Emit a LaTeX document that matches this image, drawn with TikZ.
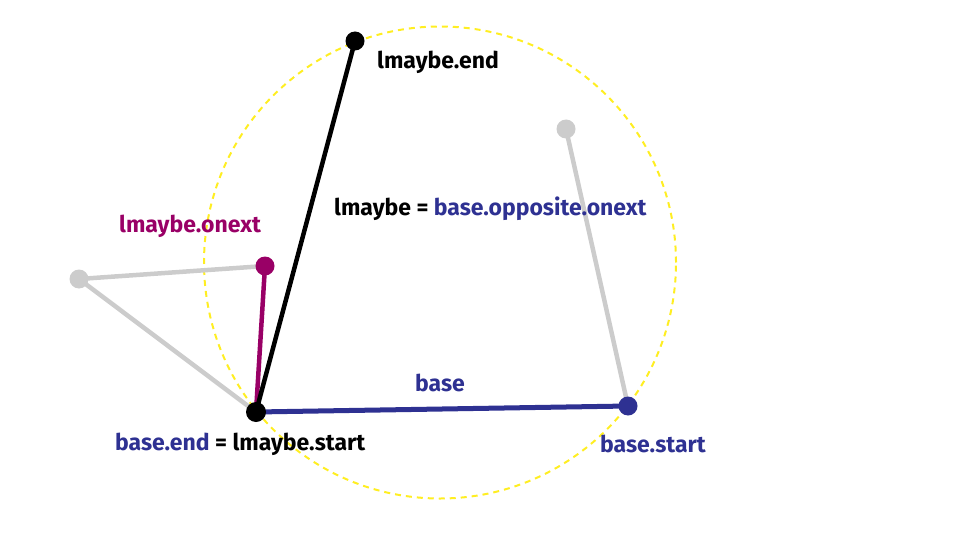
\documentclass[tikz,border=0pt]{standalone}
\usepackage{fontspec}
\setmainfont{Fira Sans}
\usepackage{xcolor}
\usetikzlibrary{calc,positioning}

\definecolor{baseblue}{HTML}{2E3192}
\definecolor{onextpurple}{HTML}{990066}
\definecolor{edgegray}{HTML}{CCCCCC}
\definecolor{circleyellow}{HTML}{FFEE22}

\tikzset{
  dot/.style={circle, fill=#1, inner sep=0pt, minimum size=19pt},
  lbl/.style={font=\fontsize{23}{27}\selectfont\bfseries, inner sep=0pt},
  edge/.style={line width=4.5pt, #1}
}

\begin{document}
\begin{tikzpicture}[x=1pt, y=-1pt]

% Canvas
\useasboundingbox (0,0) rectangle (960,540);

% Circumcircle
\draw[circleyellow, line width=2pt, dash pattern=on 6pt off 5pt] (440,262.5) circle (236pt);

% Vertices
\coordinate (lend) at (355,41);
\coordinate (bend) at (256,412);
\coordinate (bstart) at (628,406);
\coordinate (rgray) at (566,129);
\coordinate (onext) at (265,266);
\coordinate (lgray) at (79,279);

% Gray edges
\draw[edge=edgegray] (bstart) -- (rgray);
\draw[edge=edgegray] (onext) -- (lgray) -- (bend);

% Edges of interest
\draw[edge=onextpurple] (bend) -- (onext);
\draw[edge=black] (bend) -- (lend);
\draw[edge=baseblue, line width=5pt] (bend) -- (bstart);

% Dots
\node[dot=edgegray] (rgraydot) at (rgray) {};
\node[dot=edgegray] (lgraydot) at (lgray) {};
\node[dot=onextpurple] (onextdot) at (onext) {};
\node[dot=black] (lenddot) at (lend) {};
\node[dot=black, minimum size=20pt] (benddot) at (bend) {};
\node[dot=baseblue] (bstartdot) at (bstart) {};

% Labels
\node[lbl, anchor=west] (lendlbl) at (377,62) {lmaybe.end};
\node[lbl, anchor=west] (lmaybelbl) at (334,209) {lmaybe = \textcolor{baseblue}{base.opposite.onext}};
\node[lbl, anchor=west, text=onextpurple] (onextlbl) at (119,226) {lmaybe.onext};
\node[lbl, text=baseblue] (baselbl) at (440,383) {base};
\node[lbl, anchor=west] (bendlbl) at (115,444) {\textcolor{baseblue}{base.end} = lmaybe.start};
\node[lbl, anchor=west, text=baseblue] (bstartlbl) at (600,444) {base.start};

\end{tikzpicture}
\end{document}
